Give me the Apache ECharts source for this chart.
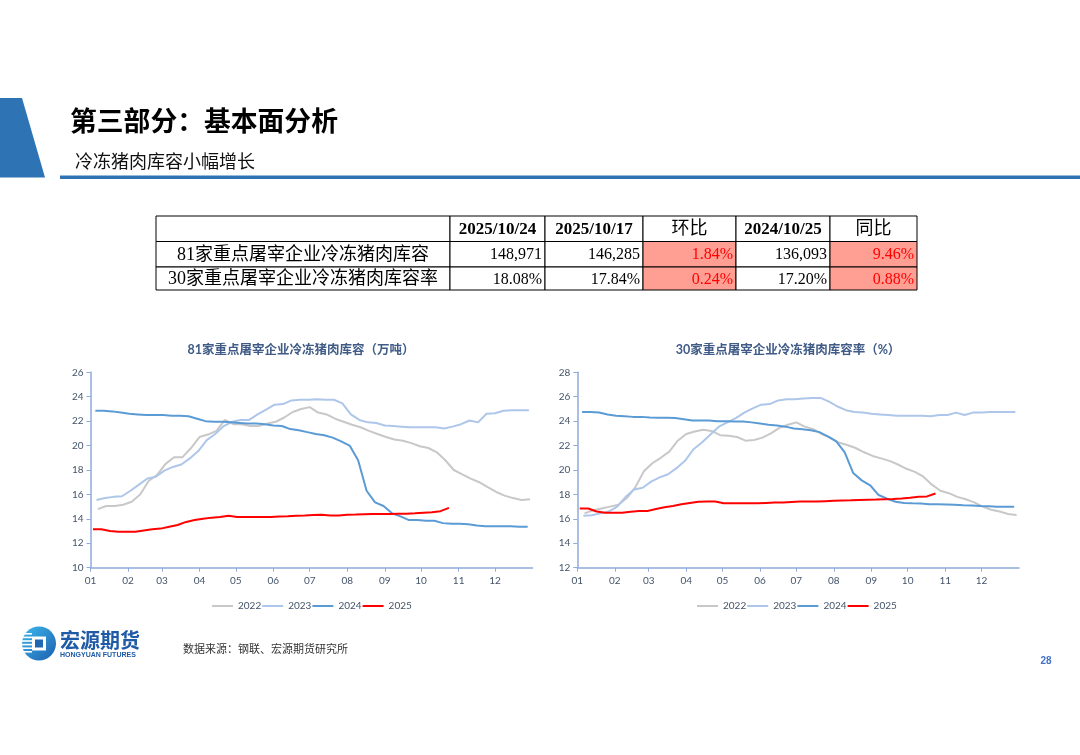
<!DOCTYPE html>
<html>
<head>
<meta charset="utf-8">
<script src="https://cdn.jsdelivr.net/npm/echarts@6/dist/echarts.min.js"></script>
<style>
html,body{margin:0;padding:0;background:#fff;}
#main{width:1080px;height:755px;}
</style>
</head>
<body>
<div id="main"></div>
<script>
// ---------------- DATA ----------------
const monthLabels = ['01','02','03','04','05','06','07','08','09','10','11','12'];
const monthStartDays = [0,31,59,90,120,151,181,212,243,273,304,334];
const yearNames = ['2022','2023','2024','2025'];
// day-of-year (0-based) of the first weekly (Friday) observation of each year
const firstObsDay = [6,5,4,2];

// 81家重点屠宰企业冷冻猪肉库容（万吨）, weekly
const stock2022 = [14.8,15.05,15.05,15.15,15.4,16.0,17.1,17.6,18.5,19.05,19.05,19.8,20.7,20.9,21.2,22.1,21.75,21.75,21.6,21.6,21.8,21.95,22.3,22.75,23.0,23.15,22.7,22.55,22.2,21.95,21.7,21.5,21.2,20.95,20.7,20.5,20.4,20.2,19.95,19.8,19.45,18.8,18.0,17.65,17.3,17.0,16.6,16.2,15.9,15.7,15.55,15.6];
const stock2023 = [15.55,15.7,15.8,15.85,16.3,16.8,17.3,17.45,17.95,18.25,18.45,18.95,19.55,20.45,20.95,21.6,21.95,22.1,22.1,22.55,22.95,23.35,23.4,23.7,23.75,23.75,23.8,23.75,23.75,23.45,22.55,22.1,21.9,21.85,21.65,21.6,21.55,21.5,21.5,21.5,21.5,21.4,21.55,21.75,22.05,21.9,22.6,22.65,22.85,22.9,22.9,22.9];
const stock2024 = [22.85,22.85,22.8,22.7,22.6,22.55,22.5,22.5,22.5,22.45,22.45,22.4,22.2,22.0,21.95,21.95,21.9,21.85,21.8,21.8,21.75,21.65,21.6,21.35,21.25,21.1,20.95,20.85,20.65,20.35,20.0,18.8,16.3,15.35,15.05,14.45,14.2,13.9,13.9,13.85,13.85,13.65,13.6,13.6,13.55,13.45,13.4,13.4,13.4,13.4,13.35,13.35];
const stock2025 = [13.15,13.15,13.0,12.95,12.95,12.95,13.05,13.15,13.2,13.35,13.5,13.75,13.9,14.0,14.1,14.15,14.25,14.15,14.15,14.15,14.15,14.15,14.2,14.22,14.25,14.28,14.32,14.33,14.28,14.28,14.33,14.35,14.38,14.4,14.4,14.4,14.42,14.42,14.45,14.5,14.55,14.63,14.9];

// 30家重点屠宰企业冷冻猪肉库容率（%）, weekly
const rate2022 = [16.45,16.7,16.85,17.0,17.15,17.7,18.6,19.9,20.55,21.0,21.5,22.4,22.95,23.15,23.3,23.2,22.85,22.8,22.7,22.4,22.45,22.65,23.0,23.45,23.7,23.9,23.55,23.35,22.95,22.65,22.25,22.05,21.8,21.45,21.15,20.95,20.75,20.45,20.1,19.85,19.45,18.8,18.3,18.1,17.8,17.6,17.35,17.0,16.75,16.6,16.4,16.32];
const rate2023 = [16.25,16.3,16.45,16.6,17.0,17.8,18.4,18.55,19.05,19.4,19.65,20.15,20.75,21.7,22.25,22.9,23.55,23.9,24.25,24.7,25.05,25.35,25.4,25.7,25.8,25.8,25.85,25.9,25.9,25.6,25.2,24.9,24.75,24.7,24.6,24.55,24.5,24.45,24.45,24.45,24.45,24.4,24.5,24.5,24.7,24.5,24.7,24.7,24.75,24.75,24.75,24.75];
const rate2024 = [24.75,24.75,24.7,24.55,24.45,24.4,24.35,24.35,24.3,24.28,24.28,24.25,24.15,24.05,24.05,24.05,24.0,24.0,23.98,23.98,23.9,23.8,23.7,23.65,23.55,23.4,23.33,23.25,23.1,22.75,22.35,21.45,19.75,19.15,18.75,17.95,17.65,17.4,17.3,17.27,17.25,17.2,17.2,17.18,17.15,17.12,17.1,17.05,17.03,17.0,17.0,17.0];
const rate2025 = [16.85,16.85,16.6,16.5,16.5,16.5,16.58,16.65,16.65,16.8,16.95,17.05,17.2,17.3,17.4,17.42,17.42,17.27,17.27,17.27,17.27,17.27,17.3,17.33,17.33,17.38,17.42,17.42,17.42,17.45,17.48,17.5,17.52,17.55,17.57,17.58,17.6,17.62,17.66,17.72,17.8,17.84,18.08];

// table
const tableHead = ['', '2025/10/24', '2025/10/17', '环比', '2024/10/25', '同比'];
const tableRowLabels = ['81家重点屠宰企业冷冻猪肉库容', '30家重点屠宰企业冷冻猪肉库容率'];
const tableThisWeek = ['148,971', '18.08%'];
const tablePrevWeek = ['146,285', '17.84%'];
const tableMoM = ['1.84%', '0.24%'];
const tableLastYear = ['136,093', '17.20%'];
const tableYoY = ['9.46%', '0.88%'];

// ---------------- RENDER ----------------
const chart = echarts.init(document.getElementById('main'), null, {renderer:'canvas'});
const CJK = "'Noto Sans CJK SC', sans-serif";
const SERIF = "'Liberation Serif', 'Noto Sans CJK SC', serif";
const LAT = "Lato, 'Noto Sans CJK SC', sans-serif";
const axisColor = '#8FAADC';
const labelColor = '#44546A';
const seriesColors = ['#C8C8C8', '#AEC6EA', '#5B9BD5', '#FF0000'];

function toPoints(start, vals){ return vals.map((v,i)=>[start + 7*i, v]); }

const stockSets = [stock2022, stock2023, stock2024, stock2025];
const rateSets = [rate2022, rate2023, rate2024, rate2025];

const series = [];
stockSets.forEach((vals, k) => series.push({
  name: yearNames[k], type:'line', xAxisIndex:0, yAxisIndex:0,
  data: toPoints(firstObsDay[k], vals), showSymbol:false, symbol:'none',
  lineStyle:{width:2, color:seriesColors[k]}, itemStyle:{color:seriesColors[k]}
}));
rateSets.forEach((vals, k) => series.push({
  name: yearNames[k], type:'line', xAxisIndex:1, yAxisIndex:1,
  data: toPoints(firstObsDay[k], vals), showSymbol:false, symbol:'none',
  lineStyle:{width:2, color:seriesColors[k]}, itemStyle:{color:seriesColors[k]}
}));

function xAxisDef(gi){
  return {
    type:'value', gridIndex:gi, min:0, max:365,
    axisLine:{show:true, lineStyle:{color:axisColor, width:1.5}},
    axisTick:{show:true, customValues:monthStartDays, length:4, lineStyle:{color:axisColor}},
    axisLabel:{show:true, customValues:monthStartDays, color:labelColor, fontSize:10, fontFamily:LAT, margin:8,
      formatter:(v)=>monthLabels[monthStartDays.indexOf(v)] || ''},
    splitLine:{show:false}
  };
}
function yAxisDef(gi, mn, mx){
  return {
    type:'value', gridIndex:gi, min:mn, max:mx, interval:2,
    axisLine:{show:true, lineStyle:{color:axisColor, width:1.5}},
    axisTick:{show:true, length:4, lineStyle:{color:axisColor}},
    axisLabel:{color:labelColor, fontSize:10, fontFamily:LAT, margin:7},
    splitLine:{show:false}
  };
}

// graphic: header, table, footer
const g = [];
g.push({type:'polygon', shape:{points:[[0,98],[22,98],[45,177.5],[0,177.5]]}, style:{fill:'#2E74B5'}});
g.push({type:'rect', shape:{x:60, y:175.5, width:1020, height:3.5}, style:{fill:'#2E74B5'}});
g.push({type:'text', x:70, y:121, style:{text:'第三部分：基本面分析', font:"bold 26.8px "+CJK, fill:'#000', verticalAlign:'middle'}});
g.push({type:'text', x:75, y:161, style:{text:'冷冻猪肉库容小幅增长', font:"18px "+CJK, fill:'#111', verticalAlign:'middle'}});

// table geometry
const colX = [156, 450, 545, 643, 736, 830, 917];
const rowY = [216, 241.5, 267, 290];
const pinkCols = [3,5];
for (let r=0; r<3; r++){
  for (let c=0; c<6; c++){
    const pink = r>0 && pinkCols.includes(c);
    g.push({type:'rect', shape:{x:colX[c], y:rowY[r], width:colX[c+1]-colX[c], height:rowY[r+1]-rowY[r]},
      style:{fill: pink ? '#FF9E93' : '#fff', stroke:'#000', lineWidth:1}});
  }
}
// header texts
tableHead.forEach((t,c)=>{
  if(!t) return;
  const isCjk = /[\u4e00-\u9fff]/.test(t);
  g.push({type:'text', x:(colX[c]+colX[c+1])/2, y:(rowY[0]+rowY[1])/2+1,
    style:{text:t, font:(isCjk ? "18px " : "bold 17px ")+SERIF, fill:'#000', align:'center', verticalAlign:'middle'}});
});
const rowCols = [tableThisWeek, tablePrevWeek, tableMoM, tableLastYear, tableYoY];
for (let r=0; r<2; r++){
  const cy = (rowY[r+1]+rowY[r+2])/2+1;
  g.push({type:'text', x:(colX[0]+colX[1])/2, y:cy,
    style:{text:tableRowLabels[r], font:"18px "+SERIF, fill:'#000', align:'center', verticalAlign:'middle'}});
  rowCols.forEach((arr, k)=>{
    const c = k+1;
    const red = pinkCols.includes(c);
    g.push({type:'text', x:colX[c+1]-3, y:cy,
      style:{text:arr[r], font:"16px "+SERIF, fill: red ? '#FF0000' : '#000', align:'right', verticalAlign:'middle'}});
  });
}

// chart titles
g.push({type:'text', x:301, y:350, style:{text:'81家重点屠宰企业冷冻猪肉库容（万吨）', font:"bold 12.5px "+LAT, fill:'#3F5B86', align:'center', verticalAlign:'middle'}});
g.push({type:'text', x:788, y:350, style:{text:'30家重点屠宰企业冷冻猪肉库容率（%）', font:"bold 12.5px "+LAT, fill:'#3F5B86', align:'center', verticalAlign:'middle'}});

// footer logo
g.push({type:'circle', shape:{cx:39, cy:643.5, r:17}, style:{fill:new echarts.graphic.LinearGradient(0,0,1,1,[{offset:0,color:'#3DB8EC'},{offset:1,color:'#1C5FAE'}])}});
for (let i=0;i<6;i++){
  g.push({type:'rect', shape:{x:22, y:633+i*3.6, width:10, height:1.6}, style:{fill:'#fff'}});
}
g.push({type:'rect', shape:{x:32, y:636.5, width:14, height:14}, style:{fill:'#fff'}});
g.push({type:'rect', shape:{x:35, y:639.5, width:8, height:8}, style:{fill:'#1F66B3'}});
g.push({type:'text', x:60, y:640, style:{text:'宏源期货', font:"bold 20px "+CJK, fill:'#1F5AA6', verticalAlign:'middle'}});
g.push({type:'text', x:60, y:655.5, style:{text:'HONGYUAN FUTURES', font:"bold 7px 'Liberation Sans', sans-serif", fill:'#1F5AA6', verticalAlign:'middle'}});
g.push({type:'text', x:183, y:648.5, style:{text:'数据来源：钢联、宏源期货研究所', font:"11px "+CJK, fill:'#333', verticalAlign:'middle'}});
g.push({type:'text', x:1046, y:661.5, style:{text:'28', font:"bold 10px 'Liberation Sans', sans-serif", fill:'#4472C4', align:'center', verticalAlign:'middle'}});

const option = {
  animation:false,
  backgroundColor:'#fff',
  grid:[
    {left:90.5, top:372.3, width:442, height:195.4, containLabel:false},
    {left:577.3, top:372.3, width:441.7, height:195.4, containLabel:false}
  ],
  xAxis:[xAxisDef(0), xAxisDef(1)],
  yAxis:[yAxisDef(0,10,26), yAxisDef(1,12,28)],
  legend:[
    {data:yearNames, left:207, top:596, icon:'rect', itemWidth:21, itemHeight:2, itemGap:1,
     textStyle:{color:labelColor, fontSize:10, fontFamily:LAT}},
    {data:yearNames, left:692, top:596, icon:'rect', itemWidth:21, itemHeight:2, itemGap:1,
     textStyle:{color:labelColor, fontSize:10, fontFamily:LAT}}
  ],
  series: series,
  graphic: g
};
chart.setOption(option);
</script>
</body>
</html>
